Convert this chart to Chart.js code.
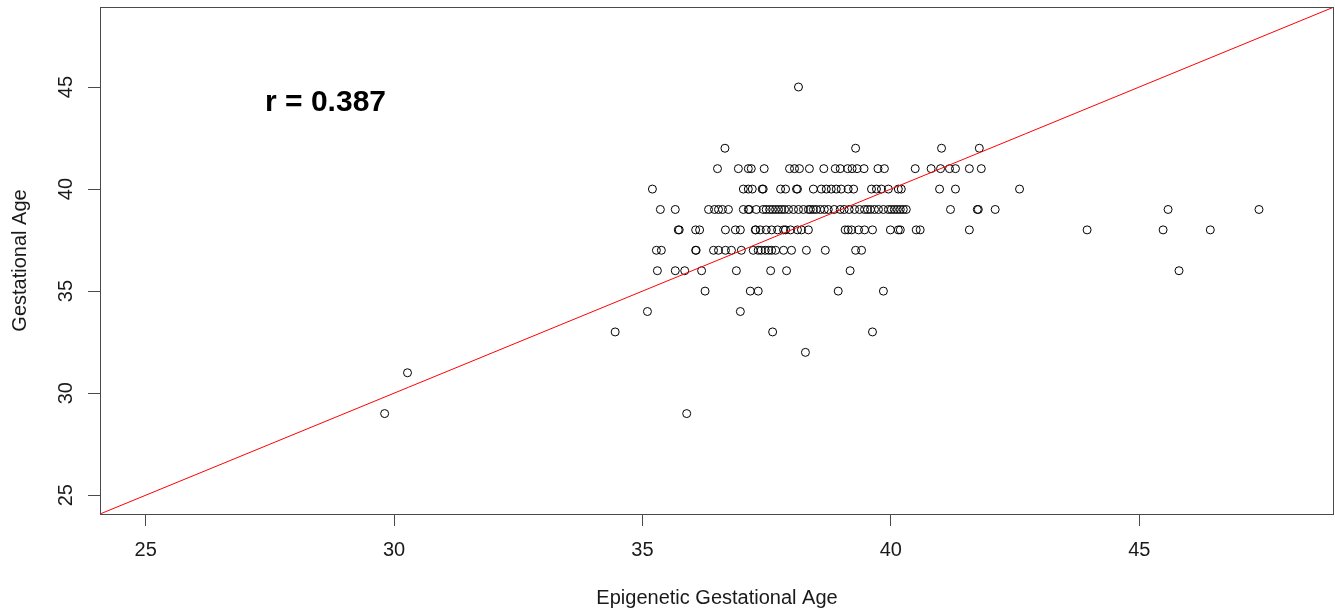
<!DOCTYPE html>
<html>
<head>
<meta charset="utf-8">
<script src="https://cdn.jsdelivr.net/npm/chart.js@4/dist/chart.umd.min.js"></script>
<style>
html,body{margin:0;padding:0;background:#ffffff;}
#wrap{width:1335px;height:613px;}
</style>
</head>
<body>
<div id="wrap"><canvas id="c" width="1335" height="613"></canvas></div>
<script>
// Epigenetic gestational age values, grouped by (integer) gestational age
const epiGA29 = [29.81, 35.89];
const epiGA31 = [30.27];
const epiGA32 = [38.28];
const epiGA33 = [34.45, 37.62, 39.63];
const epiGA34 = [35.10, 36.97];
const epiGA35 = [36.26, 37.17, 37.33, 38.94, 39.85];
const epiGA36 = [35.30, 35.66, 35.85, 36.19, 36.89, 37.58, 37.90, 39.18, 45.80];
const epiGA37 = [35.28, 35.38, 36.07, 36.08, 36.43, 36.53, 36.67, 36.79, 36.99, 37.23, 37.33, 37.39,
                 37.47, 37.54, 37.60, 37.68, 37.84, 38.00, 38.30, 38.68, 39.29, 39.41];
const epiGA38 = [35.72, 35.74, 36.07, 36.15, 36.67, 36.87, 36.97, 37.27, 37.28, 37.37, 37.49, 37.60,
                 37.72, 37.84, 37.88, 37.98, 38.12, 38.20, 38.34, 39.08, 39.14, 39.21, 39.35, 39.47,
                 39.63, 39.99, 40.15, 40.19, 40.51, 40.59, 41.58, 43.95, 45.48, 46.43];
const epiGA39 = [35.36, 35.66, 36.33, 36.45, 36.53, 36.61, 36.73, 37.03, 37.13, 37.15, 37.29, 37.43,
                 37.49, 37.56, 37.62, 37.68, 37.74, 37.80, 37.86, 37.94, 38.04, 38.14, 38.24, 38.34,
                 38.38, 38.44, 38.50, 38.58, 38.66, 38.74, 38.86, 38.98, 39.06, 39.16, 39.27, 39.37,
                 39.47, 39.53, 39.59, 39.67, 39.75, 39.85, 39.95, 40.01, 40.07, 40.13, 40.19, 40.25,
                 40.31, 41.20, 41.74, 41.76, 42.10, 45.58, 47.41];
const epiGA40 = [35.20, 37.03, 37.13, 37.21, 37.41, 37.43, 37.78, 37.88, 38.10, 38.12, 38.44, 38.60,
                 38.70, 38.80, 38.90, 39.00, 39.14, 39.25, 39.61, 39.71, 39.81, 39.95, 40.15, 40.21,
                 40.98, 41.30, 42.59];
const epiGA41 = [36.51, 36.93, 37.13, 37.19, 37.45, 37.96, 38.06, 38.16, 38.36, 38.65, 38.88, 38.98,
                 39.13, 39.22, 39.32, 39.46, 39.74, 39.87, 40.49, 40.81, 41.00, 41.18, 41.30, 41.58, 41.82];
const epiGA42 = [36.66, 39.29, 41.02, 41.78];
const epiGA45 = [38.14];

const gestationalRows = [
  [29, epiGA29], [31, epiGA31], [32, epiGA32], [33, epiGA33], [34, epiGA34], [35, epiGA35],
  [36, epiGA36], [37, epiGA37], [38, epiGA38], [39, epiGA39], [40, epiGA40], [41, epiGA41],
  [42, epiGA42], [45, epiGA45]
];

const tickValues = [25, 30, 35, 40, 45];
const axisMin = 24.08;
const axisMax = 48.92;
const identityLine = [24.08, 48.92];   // y = x reference line
const corrLabel = 'r = 0.387';
const corrLabelPos = [28.62, 44.22];
const xTitle = 'Epigenetic Gestational Age';
const yTitle = 'Gestational Age';

const points = [];
gestationalRows.forEach(([ga, list]) => list.forEach(e => points.push({x: e, y: ga})));
const linePts = identityLine.map(v => ({x: v, y: v}));

const FONT = '"Liberation Sans", Arial, Helvetica, sans-serif';
const AXIS_COLOR = '#4a4a4a';

const boxPlugin = {
  id: 'boxPlugin',
  afterDraw(chart) {
    const {ctx, chartArea: a, scales} = chart;
    ctx.save();
    ctx.strokeStyle = AXIS_COLOR;
    ctx.lineWidth = 1;
    ctx.strokeRect(Math.round(a.left) + 0.5, Math.round(a.top) + 0.5,
                   Math.round(a.right - a.left) - 1, Math.round(a.bottom - a.top));
    ctx.fillStyle = '#000';
    ctx.font = 'bold 30px ' + FONT;
    ctx.textAlign = 'center';
    ctx.textBaseline = 'middle';
    ctx.fillText(corrLabel, scales.x.getPixelForValue(corrLabelPos[0]),
                 scales.y.getPixelForValue(corrLabelPos[1]));
    ctx.restore();
  }
};

new Chart(document.getElementById('c'), {
  type: 'scatter',
  data: {
    datasets: [
      {
        data: linePts, showLine: true, borderColor: '#ff0000', borderWidth: 1,
        pointRadius: 0, pointHoverRadius: 0, fill: false
      },
      {
        data: points, pointStyle: 'circle', pointRadius: 4, pointHoverRadius: 4,
        borderColor: '#000000', borderWidth: 1, backgroundColor: 'rgba(0,0,0,0)'
      }
    ]
  },
  options: {
    responsive: false,
    animation: false,
    events: [],
    layout: {autoPadding: false, padding: {top: 7, right: 1, left: 0, bottom: 0}},
    plugins: {legend: {display: false}, tooltip: {enabled: false}},
    scales: {
      x: {
        type: 'linear', min: axisMin, max: axisMax,
        afterBuildTicks: s => { s.ticks = tickValues.map(v => ({value: v})); },
        afterFit: s => { s.height = 99; s.paddingLeft = 0; s.paddingRight = 0; },
        border: {display: false},
        grid: {drawOnChartArea: false, drawTicks: true, tickLength: 12, color: AXIS_COLOR, lineWidth: 1},
        ticks: {font: {family: FONT, size: 20}, color: '#1a1a1a', padding: 12, maxRotation: 0, autoSkip: false},
        title: {display: true, text: xTitle, font: {family: FONT, size: 20}, color: '#1a1a1a', padding: {top: 0, bottom: 3}}
      },
      y: {
        type: 'linear', min: axisMin, max: axisMax,
        afterBuildTicks: s => { s.ticks = tickValues.map(v => ({value: v})); },
        afterFit: s => { s.width = 100; s.paddingTop = 0; s.paddingBottom = 0; },
        border: {display: false},
        grid: {drawOnChartArea: false, drawTicks: true, tickLength: 12, color: AXIS_COLOR, lineWidth: 1},
        ticks: {font: {family: FONT, size: 20}, color: '#1a1a1a', padding: 10, minRotation: 90, maxRotation: 90,
                crossAlign: 'center', autoSkip: false},
        title: {display: true, text: yTitle, font: {family: FONT, size: 20}, color: '#1a1a1a', padding: {top: 8, bottom: 0}}
      }
    }
  },
  plugins: [boxPlugin]
});
</script>
</body>
</html>
